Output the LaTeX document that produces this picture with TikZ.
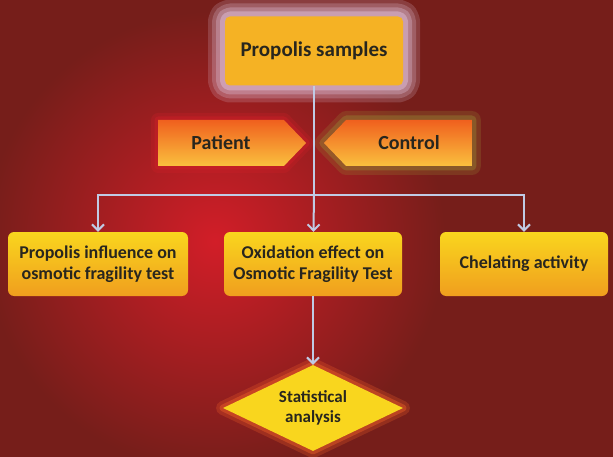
\documentclass[tikz,border=0pt]{standalone}
\usepackage{fontspec}
\setmainfont{Carlito}
\usepackage{tikz}
\usetikzlibrary{positioning,shapes,arrows.meta,shadows}
\definecolor{bgred}{RGB}{118,30,26}
\definecolor{blobred}{RGB}{210,30,40}
\definecolor{lineblue}{RGB}{192,202,228}
\definecolor{headfill}{RGB}{245,178,36}
\definecolor{boxtop}{RGB}{249,214,30}
\definecolor{boxbot}{RGB}{240,158,30}
\definecolor{tagtop}{RGB}{240,96,30}
\definecolor{tagbot}{RGB}{250,192,62}
\definecolor{ink}{RGB}{40,38,30}
\definecolor{haze}{RGB}{222,190,214}
\definecolor{olive}{RGB}{150,130,50}
\definecolor{ember}{RGB}{245,100,40}
\tikzstyle{head}=[%
      rectangle, rounded corners=5pt, fill=headfill, text=ink, line join=round,
      preaction={draw=haze, line width=34pt, opacity=.2},
      preaction={draw=haze, line width=26pt, opacity=.25},
      preaction={draw=haze, line width=18pt, opacity=.35},
      preaction={draw=haze, line width=10pt, opacity=.5},
      minimum width=178pt, minimum height=69pt, inner sep=0pt,
      font=\fontsize{21}{25}\selectfont\bfseries
]
\tikzstyle{tag}=[%
      signal, signal pointer angle=92, top color=tagtop, bottom color=tagbot, text=ink,
      minimum width=148pt, minimum height=46pt, inner sep=0pt, line join=round,
      font=\fontsize{20}{24}\selectfont\bfseries
]
\tikzstyle{test}=[%
      rectangle, rounded corners=6pt, top color=boxtop, bottom color=boxbot, text=ink,
      minimum height=64pt, inner sep=0pt, align=center,
      font=\fontsize{18}{21}\selectfont\bfseries
]
\tikzstyle{stats}=[%
      diamond, aspect=2.1, fill=boxtop, text=ink, align=center, line join=round,
      preaction={draw=ember, line width=14pt, opacity=.25},
      preaction={draw=ember, line width=7pt, opacity=.4},
      minimum width=180pt, minimum height=86pt, inner sep=0pt,
      font=\fontsize{17}{20}\selectfont\bfseries
]
\begin{document}
\begin{tikzpicture}[x=1pt, y=1pt,
    arr/.style={draw=lineblue, line width=2pt, -{Straight Barb[length=6pt,width=12pt]}}
  ]
    \useasboundingbox (0,0) rectangle (613,456);
    \fill[bgred] (-5,-5) rectangle (618,461);
    \shade[inner color=blobred, outer color=bgred] (215,215) circle (230);

    \node[head]                                (samples) at (314,405) {Propolis samples};
    \node[tag, signal to=east,
          preaction={draw=blobred, line width=14pt, opacity=.25},
          preaction={draw=blobred, line width=7pt, opacity=.4}]  (patient) at (221,313) {Patient};
    \node[tag, signal to=west,
          preaction={draw=olive, line width=18pt, opacity=.25},
          preaction={draw=olive, line width=9pt, opacity=.45}]   (control) at (409,313) {Control};
    \coordinate (split) at (314,261);
    \node[test, minimum width=180pt]           (influence) at (98,192)  {Propolis influence on\\osmotic fragility test};
    \node[test, minimum width=178pt]           (oxidation) at (313,192) {Oxidation effect on\\Osmotic Fragility Test};
    \node[test, minimum width=168pt]           (chelating) at (524,192) {Chelating activity};
    \node[stats]                               (analysis)  at (313,48)  {Statistical\\analysis};

    \draw[draw=lineblue, line width=2pt] (samples) -- (split);
    \draw[arr] (split) -| (influence);
    \draw[arr] (split) -- (oxidation);
    \draw[arr] (split) -| (chelating);
    \draw[arr] (oxidation) -- (analysis);
  \end{tikzpicture}
\end{document}
